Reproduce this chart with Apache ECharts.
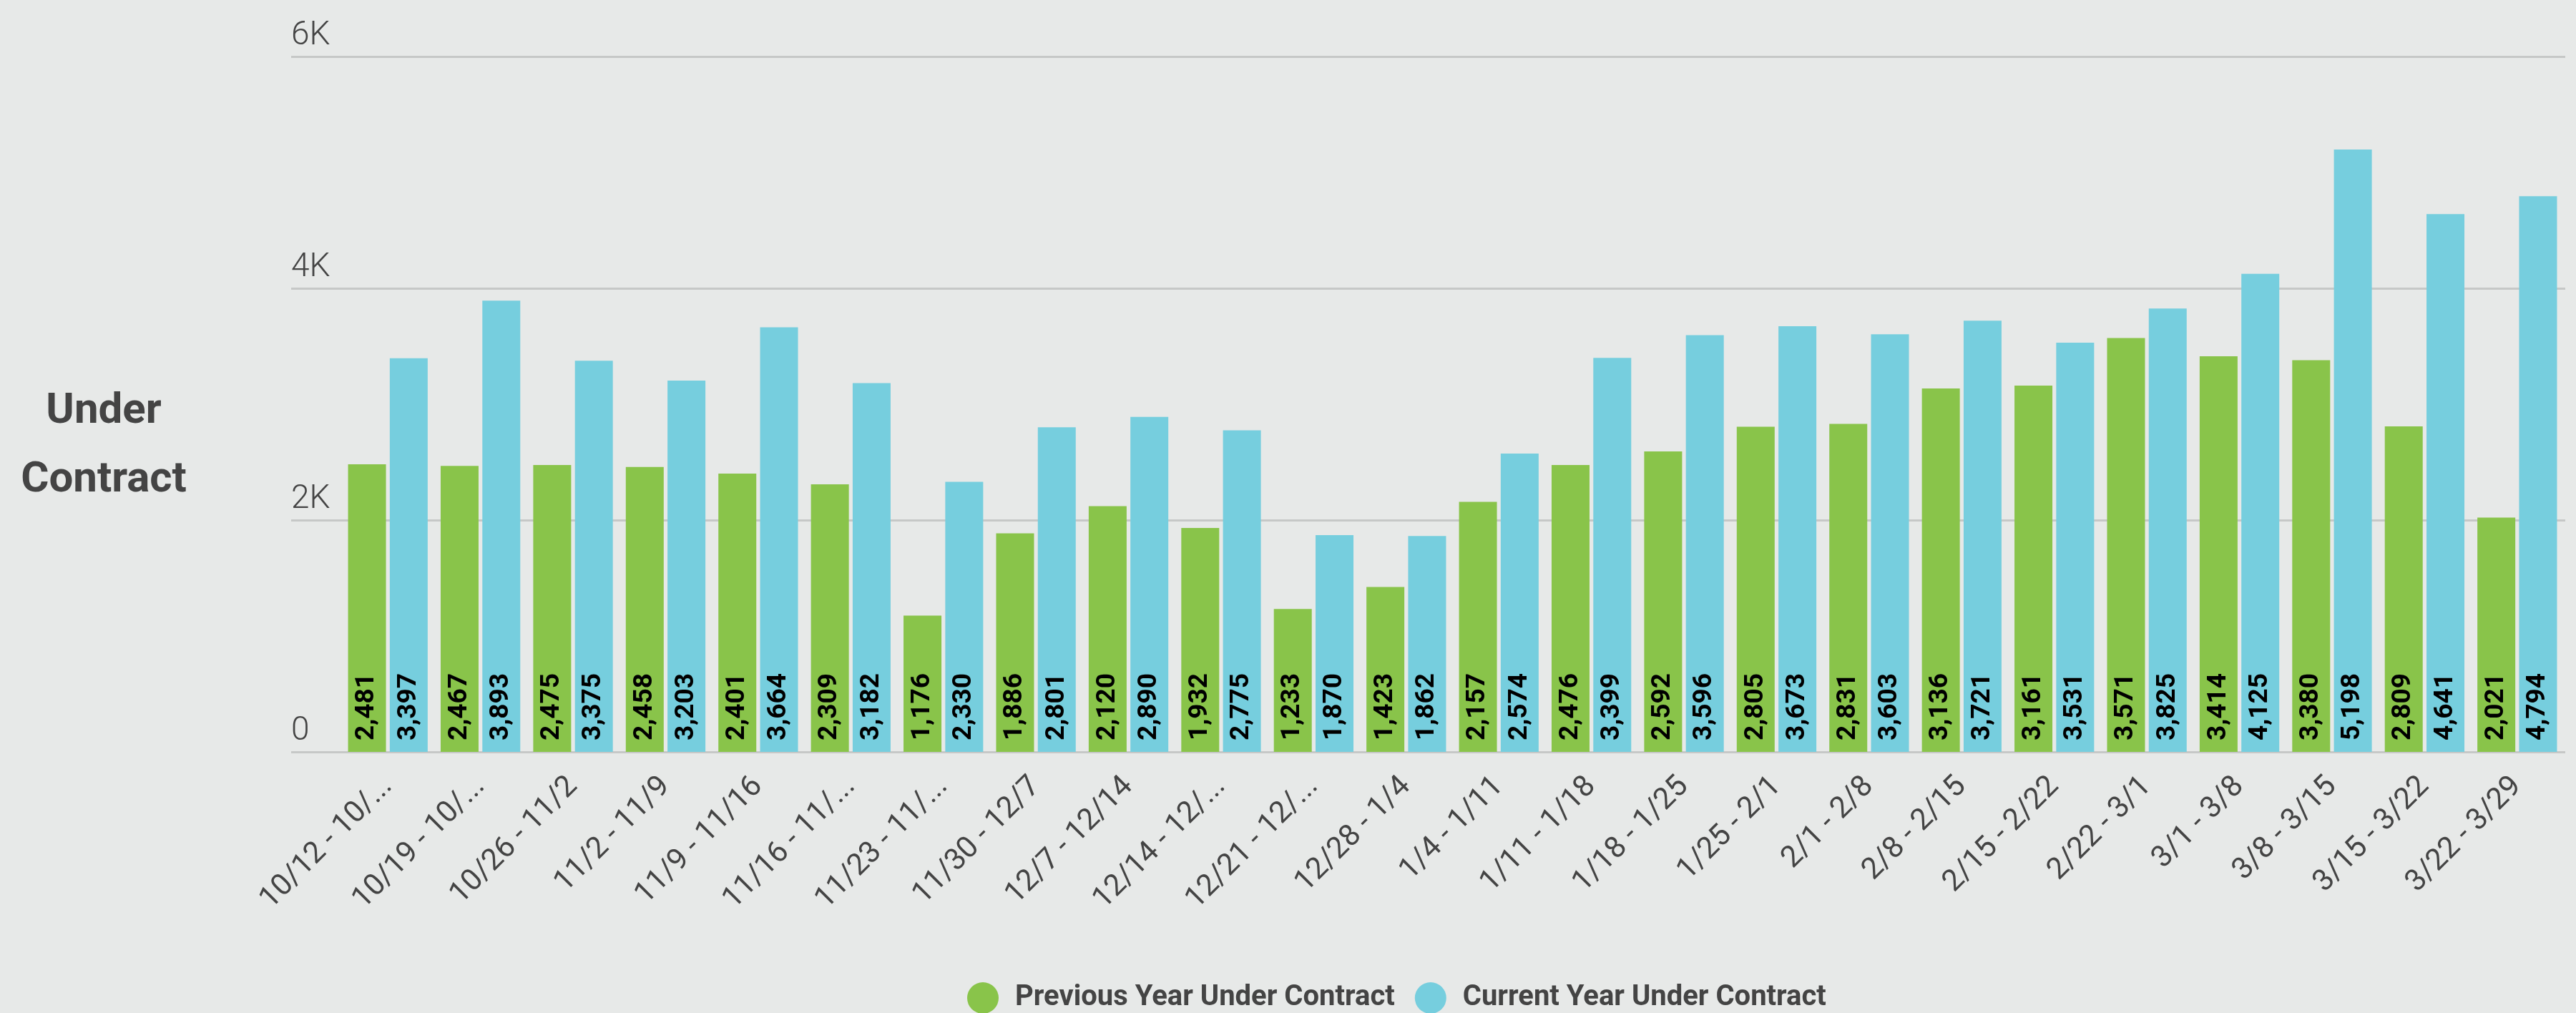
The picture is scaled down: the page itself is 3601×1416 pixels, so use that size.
<!DOCTYPE html>
<html>
<head>
<meta charset="utf-8">
<script src="https://cdn.jsdelivr.net/npm/echarts@6/dist/echarts.min.js"></script>
<style>
	html, body { margin: 0; padding: 0; background: #e7e9e8; }
	#chartContainer { width: 3601px; height: 1416px; }
</style>
</head>
<body>
<div id="chartContainer"></div>
<script>
var weeks = ["10/12 - 10/19", "10/19 - 10/26", "10/26 - 11/2", "11/2 - 11/9", "11/9 - 11/16", "11/16 - 11/23",
	"11/23 - 11/30", "11/30 - 12/7", "12/7 - 12/14", "12/14 - 12/21", "12/21 - 12/28", "12/28 - 1/4",
	"1/4 - 1/11", "1/11 - 1/18", "1/18 - 1/25", "1/25 - 2/1", "2/1 - 2/8", "2/8 - 2/15",
	"2/15 - 2/22", "2/22 - 3/1", "3/1 - 3/8", "3/8 - 3/15", "3/15 - 3/22", "3/22 - 3/29"];
var previousYear = [2481, 2467, 2475, 2458, 2401, 2309, 1176, 1886, 2120, 1932, 1233, 1423,
	2157, 2476, 2592, 2805, 2831, 3136, 3161, 3571, 3414, 3380, 2809, 2021];
var currentYear = [3397, 3893, 3375, 3203, 3664, 3182, 2330, 2801, 2890, 2775, 1870, 1862,
	2574, 3399, 3596, 3673, 3603, 3721, 3531, 3825, 4125, 5198, 4641, 4794];
var yTicks = [0, 2000, 4000, 6000];

var font = 'Roboto, "Noto Sans", sans-serif';

function valueLabel() {
	return {
		show: true,
		position: 'insideBottom',
		distance: 16,
		rotate: 90,
		align: 'left',
		verticalAlign: 'middle',
		color: '#000',
		fontFamily: font,
		fontWeight: 'bold',
		fontSize: 37,
		formatter: function(p) {
			return p.value.toLocaleString('en-US');
		}
	}
}

var myChart = echarts.init(document.getElementById("chartContainer"));
myChart.setOption({
	backgroundColor: '#e7e9e8',
	animation: false,
	color: ['#89c44a', '#76cede'],
	graphic: [{
		type: 'text',
		x: 145,
		y: 528,
		style: {
			text: 'Under\nContract',
			textAlign: 'center',
			textVerticalAlign: 'top',
			fontFamily: font,
			fontWeight: 'bold',
			fontSize: 60,
			lineHeight: 96,
			fill: '#444'
		}
	}],
	legend: {
		left: 1347,
		top: 1368,
		icon: 'circle',
		itemWidth: 44,
		itemHeight: 44,
		itemGap: 28,
		textStyle: {
			color: '#444',
			fontFamily: font,
			fontWeight: 'bold',
			fontSize: 40,
			padding: [0, 0, 0, 18]
		},
		data: ['Previous Year Under Contract', 'Current Year Under Contract']
	},
	grid: [
		// grid lines and y labels
		{ left: 407, right: 15, top: 79, bottom: 365 },
		// bars
		{ left: 477.5, right: 17.5, top: 79, bottom: 365 }
	],
	xAxis: [{
		gridIndex: 0,
		type: 'value',
		show: false
	}, {
		gridIndex: 1,
		type: 'category',
		data: weeks,
		axisLine: { show: false },
		axisTick: { show: false },
		axisLabel: {
			rotate: 45,
			margin: 42,
			color: '#444',
			fontFamily: font,
			fontSize: 42,
			interval: 0,
			formatter: function(value) {
				// long week labels are cut like the source dashboard does
				return value.length > 12 ? value.slice(0, 11) + '...' : value;
			}
		}
	}],
	yAxis: [{
		gridIndex: 0,
		type: 'value',
		min: yTicks[0],
		max: yTicks[yTicks.length - 1],
		interval: 2000,
		axisLine: { show: false },
		axisTick: { show: false },
		axisLabel: {
			inside: true,
			margin: 0,
			align: 'left',
			verticalAlign: 'bottom',
			padding: [0, 0, 6, 0],
			color: '#444',
			fontFamily: font,
			fontWeight: 300,
			fontSize: 46,
			formatter: function(value) {
				return value === 0 ? '0' : (value / 1000) + 'K';
			}
		},
		splitLine: {
			lineStyle: {
				color: '#c6c8c7',
				width: 3
			}
		}
	}, {
		gridIndex: 1,
		type: 'value',
		min: yTicks[0],
		max: yTicks[yTicks.length - 1],
		show: false,
		splitLine: { show: false }
	}],
	series: [{
		name: 'Previous Year Under Contract',
		type: 'bar',
		xAxisIndex: 1,
		yAxisIndex: 1,
		barWidth: 53,
		barGap: '10%',
		data: previousYear,
		label: valueLabel()
	}, {
		name: 'Current Year Under Contract',
		type: 'bar',
		xAxisIndex: 1,
		yAxisIndex: 1,
		barWidth: 53,
		barGap: '10%',
		data: currentYear,
		label: valueLabel()
	}]
});
</script>
</body>
</html>
